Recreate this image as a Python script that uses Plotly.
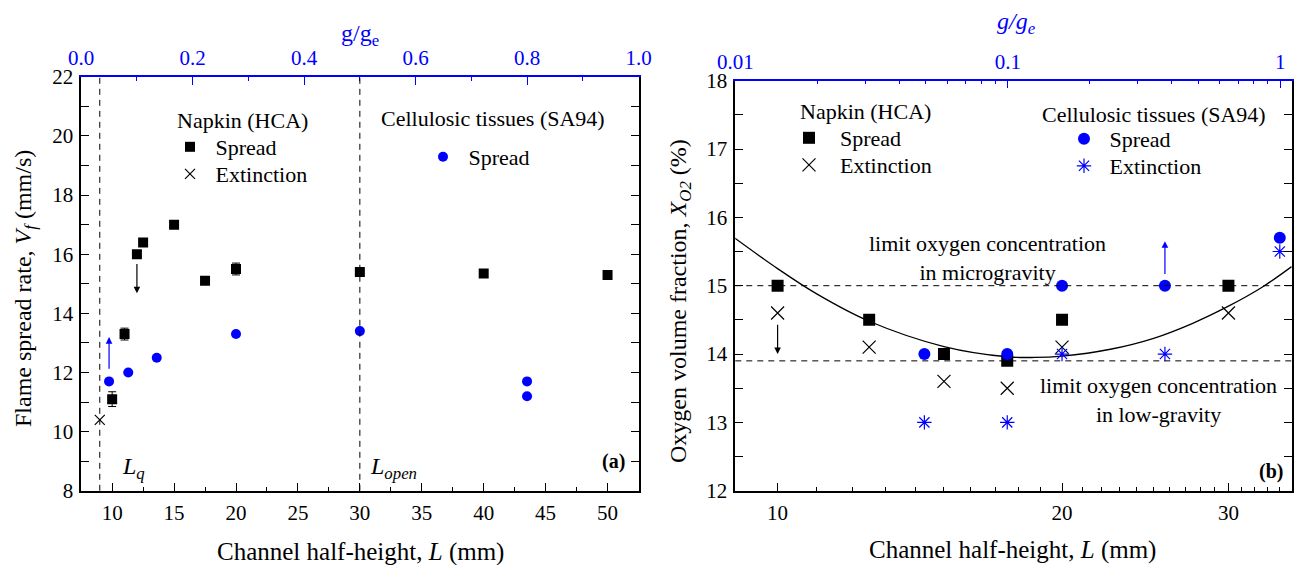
import math
import plotly.graph_objects as go

SERIF = "Liberation Serif"
BLUE = "#0000FF"

# ---------------- Panel (a) data ----------------
napkin_L = [10, 11, 12, 12.5, 15, 17.5, 20, 30, 40, 50]
napkin_V = [11.1, 13.3, 16.0, 16.4, 17.0, 15.1, 15.5, 15.4, 15.35, 15.3]
napkin_V_err = [0.25, 0.2, 0, 0, 0, 0, 0.2, 0, 0, 0]
napkin_ext_L = [9]
napkin_ext_V = [10.4]
cell_L = [9.75, 11.3, 13.6, 20, 30, 43.5, 43.5]
cell_V = [11.7, 12.0, 12.5, 13.3, 13.4, 11.7, 11.2]
L_q = 9
L_open = 30
# arrows (a): (x, y_tail, y_head, colour)
arrows_a = [(9.75, 12.08, 13.2, BLUE), (12, 15.72, 14.68, "black")]

# ---------------- Panel (b) data ----------------
nap_L2 = [10, 12.5, 15, 17.5, 20, 30]
nap_spread_X = [15.0, 14.5, 14.0, 13.9, 14.5, 15.0]
nap_ext_X = [14.6, 14.1, 13.6, 13.5, 14.1, 14.6]
cell_L2 = [14.3, 17.5, 20, 25.7, 34]
cell_spread_X = [14.0, 14.0, 15.0, 15.0, 15.7]
cell_ext_X = [13.0, 13.0, 14.0, 14.0, 15.5]
fit_L = [9, 10, 11, 12.5, 15, 17.5, 18.7, 20, 22.5, 25, 27.5, 30, 32.5, 35]
fit_X = [15.70, 15.25, 14.88, 14.48, 14.11, 13.96, 13.95, 13.97, 14.07, 14.23, 14.45, 14.70, 14.97, 15.28]
LOC_micro = 15.0
LOC_low = 13.9
arrows_b = [(25.7, 15.15, 15.65, BLUE), (10, 14.45, 14.0, "black")]

# tick definitions
xa_ticks_minor_b = [v for v in range(9, 36) if v not in (10, 20, 30)]
g_ticks_b = [0.01, 0.1, 1]
g_ticks_b_text = ["0.01", "0.1", "1"]
g_minor_b = [m * 0.01 for m in range(2, 10)] + [m * 0.1 for m in range(2, 10)]

fig = go.Figure()

# ---- panel (a) traces ----
fig.add_trace(go.Scatter(
    x=napkin_L, y=napkin_V, mode="markers", name="\u00a0Spread",
    marker=dict(symbol="square", size=10, color="black"),
    error_y=dict(type="data", array=napkin_V_err, color="black", thickness=1, width=4),
    xaxis="x", yaxis="y", legend="legend"))
fig.add_trace(go.Scatter(
    x=napkin_ext_L, y=napkin_ext_V, mode="markers", name="\u00a0Extinction",
    marker=dict(symbol="x-thin-open", size=10, color="black", line=dict(color="black", width=1.2)),
    xaxis="x", yaxis="y", legend="legend2"))
fig.add_trace(go.Scatter(
    x=cell_L, y=cell_V, mode="markers", name="\u00a0Spread",
    marker=dict(symbol="circle", size=10, color=BLUE),
    xaxis="x", yaxis="y", legend="legend3"))
fig.add_trace(go.Scatter(x=[], y=[], xaxis="x3", yaxis="y", showlegend=False, hoverinfo="skip"))

# ---- panel (b) traces ----
fig.add_trace(go.Scatter(
    x=fit_L, y=fit_X, mode="lines", line=dict(color="black", width=1.3, shape="spline"),
    xaxis="x2", yaxis="y2", showlegend=False, hoverinfo="skip"))
fig.add_trace(go.Scatter(
    x=nap_L2, y=nap_spread_X, mode="markers", name="\u00a0\u00a0Spread",
    marker=dict(symbol="square", size=12, color="black"),
    xaxis="x2", yaxis="y2", legend="legend4"))
fig.add_trace(go.Scatter(
    x=nap_L2, y=nap_ext_X, mode="markers", name="\u00a0\u00a0Extinction",
    marker=dict(symbol="x-thin-open", size=13, color="black", line=dict(color="black", width=1.2)),
    xaxis="x2", yaxis="y2", legend="legend5"))
fig.add_trace(go.Scatter(
    x=cell_L2, y=cell_spread_X, mode="markers", name="\u00a0Spread",
    marker=dict(symbol="circle", size=12, color=BLUE),
    xaxis="x2", yaxis="y2", legend="legend6"))
fig.add_trace(go.Scatter(
    x=cell_L2, y=cell_ext_X, mode="markers", name="\u00a0Extinction",
    marker=dict(symbol="asterisk-open", size=12, color=BLUE, line=dict(color=BLUE, width=1.2)),
    xaxis="x2", yaxis="y2", legend="legend7"))
fig.add_trace(go.Scatter(x=[], y=[], xaxis="x4", yaxis="y2", showlegend=False, hoverinfo="skip"))

tickfont = dict(family=SERIF, size=21, color="black")
tickfont_b = dict(family=SERIF, size=21, color=BLUE)


def minor(**kw):
    base = dict(ticks="inside", ticklen=4, tickwidth=1.2, tickcolor="black", showgrid=False)
    base.update(kw)
    return base


def axis(**kw):
    base = dict(showline=True, linecolor="black", linewidth=1.5, ticks="inside", ticklen=8,
                tickwidth=1.2, tickcolor="black", showgrid=False, zeroline=False,
                tickfont=tickfont, ticklabelstandoff=2, automargin=False)
    base.update(kw)
    return base


dom_a_y = [0.1313, 0.8641]
dom_b_y = [0.1315, 0.8572]

fig.update_layout(
    template="none",
    width=1297, height=565,
    margin=dict(l=0, r=0, t=0, b=0, pad=0),
    paper_bgcolor="white", plot_bgcolor="white",
    font=dict(family=SERIF, size=22, color="black"),
    showlegend=True,
    xaxis=axis(domain=[0.0626, 0.4923], range=[7.5, 52.5], tick0=0, dtick=5, anchor="y",
               minor=minor(dtick=2.5, tick0=0)),
    yaxis=axis(domain=dom_a_y, range=[8, 22], dtick=2, tick0=0, anchor="x", mirror="allticks",
               minor=minor(dtick=1, tick0=0)),
    xaxis3=axis(overlaying="x", side="top", anchor="y", range=[0, 1], dtick=0.2, tick0=0,
                tickformat=".1f", linecolor=BLUE, tickcolor=BLUE, tickfont=tickfont_b,
                minor=minor(tickcolor=BLUE, dtick=0.1, tick0=0)),
    xaxis2=axis(domain=[0.5669, 0.9959], type="log", range=[math.log10(9.02), math.log10(35.0)],
                tickmode="array", tickvals=[10, 20, 30], ticktext=["10", "20", "30"], anchor="y2",
                minor=minor(tickmode="array", tickvals=xa_ticks_minor_b)),
    yaxis2=axis(domain=dom_b_y, range=[12, 18], dtick=1, tick0=0, anchor="x2", mirror="allticks",
                minor=minor(dtick=0.5, tick0=0)),
    xaxis4=axis(overlaying="x2", side="top", anchor="y2", type="log", range=[-2, 0.0418],
                tickmode="array", tickvals=g_ticks_b, ticktext=g_ticks_b_text,
                linecolor=BLUE, tickcolor=BLUE, tickfont=tickfont_b,
                minor=minor(tickcolor=BLUE, tickmode="array", tickvals=g_minor_b)),
)

leg_common = dict(bgcolor="rgba(0,0,0,0)", borderwidth=0, xanchor="left", yanchor="middle",
                  font=dict(family=SERIF, size=22, color="black"), itemclick=False,
                  itemdoubleclick=False)
# (symbol centre x px, centre y px) for each legend entry
legend_pos = {
    "legend": (190, 147), "legend2": (190, 174), "legend3": (443, 157),
    "legend4": (809, 138), "legend5": (809, 165), "legend6": (1084, 139), "legend7": (1084, 166),
}
fig.update_layout(**{k: dict(x=(px - 20) / 1297, y=1 - py / 565, **leg_common)
                     for k, (px, py) in legend_pos.items()})

# reference lines
for xv in (L_q, L_open):
    fig.add_shape(type="line", xref="x", yref="y domain", x0=xv, x1=xv, y0=0, y1=1,
                  line=dict(color="black", width=1, dash="6px,5px"))
for yv in (LOC_micro, LOC_low):
    fig.add_shape(type="line", xref="x2 domain", yref="y2", x0=0, x1=1, y0=yv, y1=yv,
                  line=dict(color="black", width=1, dash="6px,5px"))

ann = []
# arrows
for xv, yt, yh, c in arrows_a:
    ann.append(dict(x=xv, y=yh, ax=xv, ay=yt, xref="x", yref="y", axref="x", ayref="y",
                    showarrow=True, arrowhead=2, arrowsize=1.1, arrowwidth=1.2, arrowcolor=c, text=""))
for xv, yt, yh, c in arrows_b:
    lx = math.log10(xv)
    ann.append(dict(x=lx, y=yh, ax=lx, ay=yt, xref="x2", yref="y2", axref="x2", ayref="y2",
                    showarrow=True, arrowhead=2, arrowsize=1.1, arrowwidth=1.2, arrowcolor=c, text=""))


def ptext(text, xpx, ypx, size=22, color="black", xanchor="center", angle=0, yanchor="middle"):
    ann.append(dict(text=text, x=xpx / 1297, y=1 - ypx / 565, xref="paper", yref="paper",
                    showarrow=False, xanchor=xanchor, yanchor=yanchor, textangle=angle,
                    font=dict(family=SERIF, size=size, color=color)))


# legend headers
ptext("Napkin (HCA)", 242.5, 120)
ptext("Cellulosic tissues (SA94)", 493, 118.5)
ptext("Napkin (HCA)", 865, 111.7)
ptext("Cellulosic tissues (SA94)", 1154, 115)
# notes
ptext("limit oxygen concentration<br>in microgravity", 988, 258)
ptext("limit oxygen concentration<br>in low-gravity", 1158, 400)
ptext("<i>L<sub>q</sub></i>", 120, 468, size=24, xanchor="left")
ptext("<i>L<sub>open</sub></i>", 368, 468, size=24, xanchor="left")
ptext("<b>(a)</b>", 627, 461, size=20, xanchor="right")
ptext("<b>(b)</b>", 1285, 471, size=20, xanchor="right")
# axis titles
ptext("Channel half-height, <i>L</i> (mm)", 360, 552, size=25)
ptext("Channel half-height, <i>L</i> (mm)", 1013, 550, size=25)
ptext("Flame spread rate, <i>V<sub>f</sub></i> (mm/s)", 25, 289, size=24, angle=-90)
ptext("Oxygen volume fraction, <i>X<sub>O2</sub></i> (%)", 680, 301, size=24, angle=-90)
ptext("g/g<sub>e</sub>", 360, 35, size=24, color=BLUE)
ptext("<i>g/g<sub>e</sub></i>", 1016, 23, size=24, color=BLUE)

fig.update_layout(annotations=ann)

fig.write_html("out.html")
